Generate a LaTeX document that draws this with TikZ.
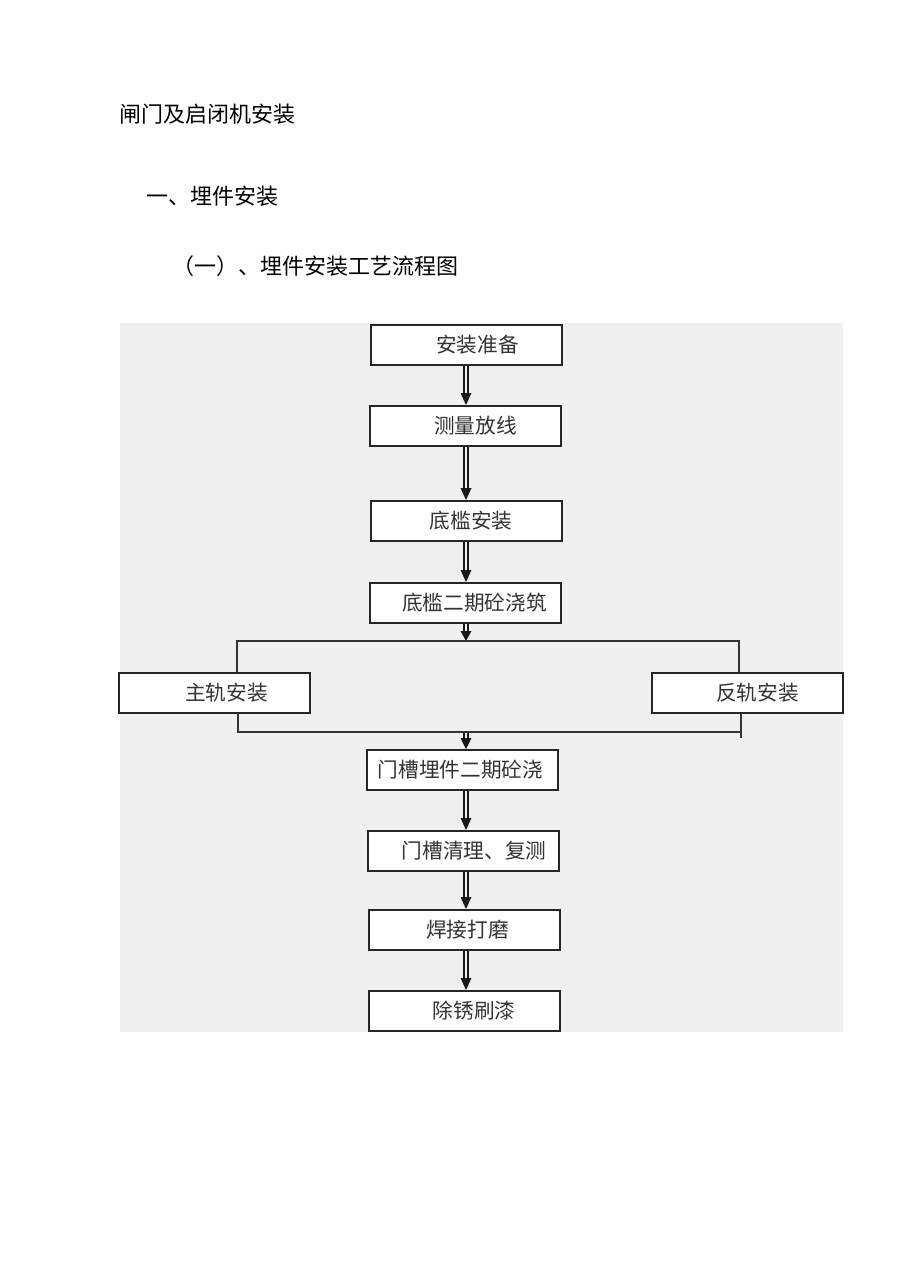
\documentclass[tikz,border=0pt]{standalone}
\usepackage{fontspec}
\setmainfont{Noto Sans CJK SC}
\usetikzlibrary{arrows.meta}
\newdimen\pxu \pxu=0.75pt
\begin{document}
\begin{tikzpicture}[x=0.75pt,y=-0.75pt,
  box/.style={draw=black!85, line width=1.5pt, fill=white, minimum width=191\pxu, minimum height=40\pxu, inner sep=0pt, font=\fontsize{15.5}{18}\selectfont, text=black!80},
  flow/.style={double=black!6, double distance=1.8pt, line width=1.3pt, draw=black!90},
  tip/.style={fill=black!90, draw=none},
  link/.style={draw=black!80, line width=1.2pt},
  ttl/.style={anchor=west, font=\fontsize{16.5}{20}\selectfont, inner sep=0pt}]
\useasboundingbox (0,0) rectangle (920,1283);
\fill[white] (0,0) rectangle (920,1283);
\fill[black!6] (120,323) rectangle (843,1032);
\node[ttl] (t1) at (119,114) {闸门及启闭机安装};
\node[ttl] (t2) at (146,196) {一、埋件安装};
\node[ttl] (t3) at (172,266) {（一）、埋件安装工艺流程图};

\node[box] (b1) at (466.5,345) {\hspace*{22\pxu}安装准备};
\node[box] (b2) at (465.5,426) {\hspace*{20\pxu}测量放线};
\node[box] (b3) at (466.5,521) {\hspace*{9\pxu}底槛安装};
\node[box] (b4) at (465.5,603) {\hspace*{18\pxu}底槛二期砼浇筑};
\node[box] (b5) at (214.5,692.5) {\hspace*{24\pxu}主轨安装};
\node[box] (b6) at (747.5,692.5) {\hspace*{20\pxu}反轨安装};
\node[box] (b7) at (462.5,770) {门槽埋件二期砼浇\hspace*{4\pxu}};
\node[box] (b8) at (463,851) {\hspace*{22\pxu}门槽清理、复测};
\node[box] (b9) at (464,930) {\hspace*{7\pxu}焊接打磨};
\node[box] (b10) at (464,1011) {\hspace*{20\pxu}除锈刷漆};

\coordinate (ax) at (466,0);
\coordinate (s1) at (466,641);
\coordinate (l1) at (237,641);
\coordinate (r1) at (739,641);
\coordinate (s2) at (466,732);
\coordinate (l2) at (238,732);
\coordinate (r2) at (741,732);

\foreach \a/\b in {b1/b2,b2/b3,b3/b4,b7/b8,b8/b9,b9/b10}{
  \draw[flow, shorten >=7.5pt] (\a.south -| ax) -- (\b.north -| ax);
  \fill[tip] ([xshift=-5.5\pxu,yshift=12\pxu]\b.north -| ax) -- ([xshift=5.5\pxu,yshift=12\pxu]\b.north -| ax) -- (\b.north -| ax) -- cycle;
}
\draw[flow, shorten >=6pt] (b4.south -| ax) -- (s1);
\fill[tip] ([xshift=-5.5\pxu,yshift=10\pxu]s1) -- ([xshift=5.5\pxu,yshift=10\pxu]s1) -- (s1) -- cycle;
\draw[flow, shorten >=6pt] (s2) -- (b7.north -| ax);
\fill[tip] ([xshift=-5.5\pxu,yshift=11\pxu]b7.north -| ax) -- ([xshift=5.5\pxu,yshift=11\pxu]b7.north -| ax) -- (b7.north -| ax) -- cycle;

\draw[link] (b5.north -| l1) -- (l1) -- (r1) -- (b6.north -| r1);
\draw[link] (b5.south -| l2) -- (l2) -- (r2);
\draw[link] (b6.south -| r2) -- ([yshift=-6\pxu]r2);
\end{tikzpicture}
\end{document}
